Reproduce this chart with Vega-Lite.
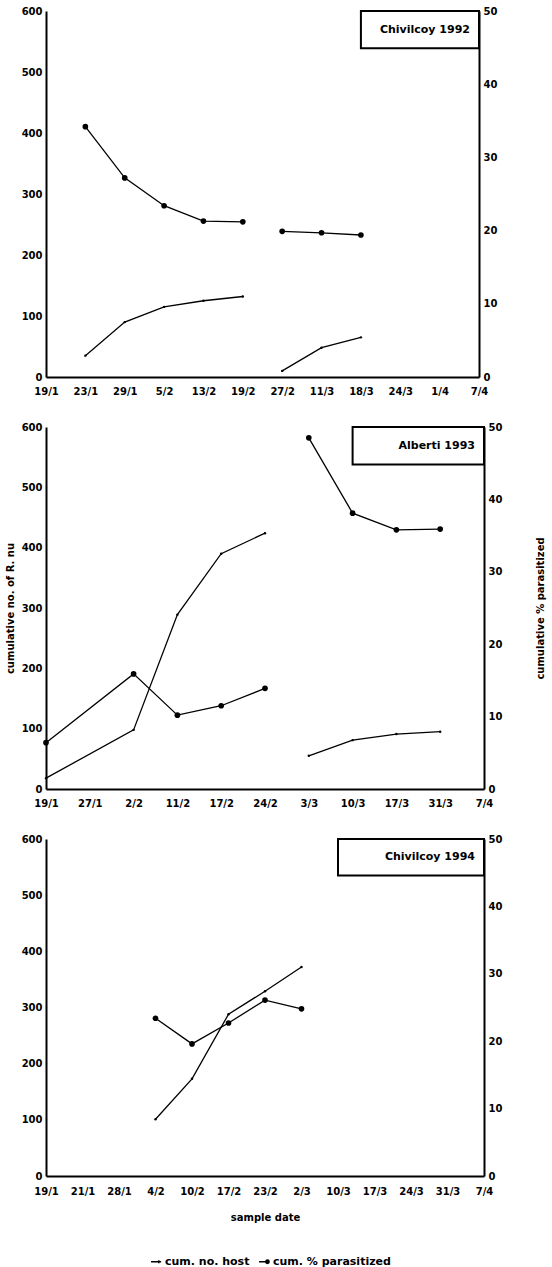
{
  "$schema": "https://vega.github.io/schema/vega-lite/v6.json",
  "padding": {"left": 5, "top": 6, "right": 2, "bottom": 2},
  "datasets": {
    "obs": [
      {"site": "Chivilcoy 1992", "date": "23/1", "host": 35, "pct": 34.2, "seg": 1},
      {"site": "Chivilcoy 1992", "date": "29/1", "host": 90, "pct": 27.2, "seg": 1},
      {"site": "Chivilcoy 1992", "date": "5/2", "host": 115, "pct": 23.4, "seg": 1},
      {"site": "Chivilcoy 1992", "date": "13/2", "host": 125, "pct": 21.3, "seg": 1},
      {"site": "Chivilcoy 1992", "date": "19/2", "host": 132, "pct": 21.2, "seg": 1},
      {"site": "Chivilcoy 1992", "date": "27/2", "host": 10, "pct": 19.9, "seg": 2},
      {"site": "Chivilcoy 1992", "date": "11/3", "host": 48, "pct": 19.7, "seg": 2},
      {"site": "Chivilcoy 1992", "date": "18/3", "host": 65, "pct": 19.4, "seg": 2},
      {"site": "Alberti 1993", "date": "19/1", "host": 18, "pct": 6.4, "seg": 1},
      {"site": "Alberti 1993", "date": "2/2", "host": 98, "pct": 15.9, "seg": 1},
      {"site": "Alberti 1993", "date": "11/2", "host": 289, "pct": 10.2, "seg": 1},
      {"site": "Alberti 1993", "date": "17/2", "host": 390, "pct": 11.5, "seg": 1},
      {"site": "Alberti 1993", "date": "24/2", "host": 424, "pct": 13.9, "seg": 1},
      {"site": "Alberti 1993", "date": "3/3", "host": 55, "pct": 48.5, "seg": 2},
      {"site": "Alberti 1993", "date": "10/3", "host": 81, "pct": 38.1, "seg": 2},
      {"site": "Alberti 1993", "date": "17/3", "host": 91, "pct": 35.8, "seg": 2},
      {"site": "Alberti 1993", "date": "31/3", "host": 95, "pct": 35.9, "seg": 2},
      {"site": "Chivilcoy 1994", "date": "4/2", "host": 101, "pct": 23.4, "seg": 1},
      {"site": "Chivilcoy 1994", "date": "10/2", "host": 173, "pct": 19.6, "seg": 1},
      {"site": "Chivilcoy 1994", "date": "17/2", "host": 288, "pct": 22.7, "seg": 1},
      {"site": "Chivilcoy 1994", "date": "23/2", "host": 329, "pct": 26.1, "seg": 1},
      {"site": "Chivilcoy 1994", "date": "2/3", "host": 372, "pct": 24.8, "seg": 1}
    ]
  },
  "resolve": {"scale": {"x": "independent", "y": "independent"}},
  "spacing": 26,
  "vconcat": [
    {
      "width": 433,
      "height": 366,
      "data": {"name": "obs"},
      "transform": [{"filter": "datum.site === 'Chivilcoy 1992'"}],
      "layer": [
        {
          "layer": [
            {"mark": {"type": "line"},
             "encoding": {
               "x": {"field": "date", "type": "ordinal", "sort": null, "scale": {"type": "point", "padding": 0, "domain": ["19/1","23/1","29/1","5/2","13/2","19/2","27/2","11/3","18/3","24/3","1/4","7/4"]}, "axis": {"title": null}},
               "y": {"field": "host", "type": "quantitative", "scale": {"domain": [0, 600], "nice": false}, "axis": {"orient": "left", "values": [0,100,200,300,400,500,600], "title": null}},
               "detail": {"field": "seg"}}},
            {"mark": {"type": "point", "size": 6},
             "encoding": {
               "x": {"field": "date", "type": "ordinal", "sort": null, "axis": {"title": null}},
               "y": {"field": "host", "type": "quantitative", "axis": {"orient": "left", "values": [0,100,200,300,400,500,600], "title": null}}}},
            {"transform": [{"aggregate": [{"op": "count", "as": "n"}], "groupby": ["site"]}],
             "mark": {"type": "rect", "fill": "white", "stroke": "black", "strokeWidth": 2},
             "encoding": {"x": {"datum": "18/3"}, "x2": {"datum": "7/4"}, "y": {"datum": 600}, "y2": {"datum": 539}}},
            {"transform": [{"aggregate": [{"op": "count", "as": "n"}], "groupby": ["site"]}],
             "mark": {"type": "text", "align": "right", "baseline": "middle", "dx": -9, "font": "DejaVu Sans", "fontWeight": "bold", "fontSize": 11, "color": "black"},
             "encoding": {"x": {"datum": "7/4"}, "y": {"datum": 569}, "text": {"field": "site", "type": "nominal"}}}
          ]
        },
        {
          "layer": [
            {"mark": {"type": "line"},
             "encoding": {
               "x": {"field": "date", "type": "ordinal", "sort": null, "axis": {"title": null}},
               "y": {"field": "pct", "type": "quantitative", "scale": {"domain": [0, 50], "nice": false}, "axis": {"orient": "right", "values": [0,10,20,30,40,50], "title": null}},
               "detail": {"field": "seg"}}},
            {"mark": {"type": "point", "size": 32},
             "encoding": {
               "x": {"field": "date", "type": "ordinal", "sort": null, "axis": {"title": null}},
               "y": {"field": "pct", "type": "quantitative", "axis": {"orient": "right", "values": [0,10,20,30,40,50], "title": null}}}}
          ]
        }
      ],
      "resolve": {"scale": {"y": "independent"}}
    },
    {
      "width": 438,
      "height": 362,
      "data": {"name": "obs"},
      "transform": [{"filter": "datum.site === 'Alberti 1993'"}],
      "layer": [
        {
          "layer": [
            {"mark": {"type": "line"},
             "encoding": {
               "x": {"field": "date", "type": "ordinal", "sort": null, "scale": {"type": "point", "padding": 0, "domain": ["19/1","27/1","2/2","11/2","17/2","24/2","3/3","10/3","17/3","31/3","7/4"]}, "axis": {"title": null}},
               "y": {"field": "host", "type": "quantitative", "scale": {"domain": [0, 600], "nice": false}, "axis": {"orient": "left", "values": [0,100,200,300,400,500,600], "title": "cumulative no. of R. nu", "titlePadding": 6}},
               "detail": {"field": "seg"}}},
            {"mark": {"type": "point", "size": 6},
             "encoding": {
               "x": {"field": "date", "type": "ordinal", "sort": null, "axis": {"title": null}},
               "y": {"field": "host", "type": "quantitative", "axis": {"orient": "left", "values": [0,100,200,300,400,500,600], "title": "cumulative no. of R. nu", "titlePadding": 6}}}},
            {"transform": [{"aggregate": [{"op": "count", "as": "n"}], "groupby": ["site"]}],
             "mark": {"type": "rect", "fill": "white", "stroke": "black", "strokeWidth": 2},
             "encoding": {"x": {"datum": "10/3"}, "x2": {"datum": "7/4"}, "y": {"datum": 600}, "y2": {"datum": 538}}},
            {"transform": [{"aggregate": [{"op": "count", "as": "n"}], "groupby": ["site"]}],
             "mark": {"type": "text", "align": "right", "baseline": "middle", "dx": -9, "font": "DejaVu Sans", "fontWeight": "bold", "fontSize": 11, "color": "black"},
             "encoding": {"x": {"datum": "7/4"}, "y": {"datum": 569}, "text": {"field": "site", "type": "nominal"}}}
          ]
        },
        {
          "layer": [
            {"mark": {"type": "line"},
             "encoding": {
               "x": {"field": "date", "type": "ordinal", "sort": null, "axis": {"title": null}},
               "y": {"field": "pct", "type": "quantitative", "scale": {"domain": [0, 50], "nice": false}, "axis": {"orient": "right", "values": [0,10,20,30,40,50], "title": "cumulative % parasitized", "titleAngle": 270, "titlePadding": 44}},
               "detail": {"field": "seg"}}},
            {"mark": {"type": "point", "size": 32},
             "encoding": {
               "x": {"field": "date", "type": "ordinal", "sort": null, "axis": {"title": null}},
               "y": {"field": "pct", "type": "quantitative", "axis": {"orient": "right", "values": [0,10,20,30,40,50], "title": "cumulative % parasitized", "titleAngle": 270, "titlePadding": 44}}}}
          ]
        }
      ],
      "resolve": {"scale": {"y": "independent"}}
    },
    {
      "width": 438,
      "height": 337,
      "data": {"name": "obs"},
      "transform": [{"filter": "datum.site === 'Chivilcoy 1994'"}],
      "layer": [
        {
          "layer": [
            {"mark": {"type": "line"},
             "encoding": {
               "x": {"field": "date", "type": "ordinal", "sort": null, "scale": {"type": "point", "padding": 0, "domain": ["19/1","21/1","28/1","4/2","10/2","17/2","23/2","2/3","10/3","17/3","24/3","31/3","7/4"]}, "axis": {"title": "sample date", "titlePadding": 16, "labelPadding": 10}},
               "y": {"field": "host", "type": "quantitative", "scale": {"domain": [0, 600], "nice": false}, "axis": {"orient": "left", "values": [0,100,200,300,400,500,600], "title": null}},
               "detail": {"field": "seg"}}},
            {"mark": {"type": "point", "size": 6},
             "encoding": {
               "x": {"field": "date", "type": "ordinal", "sort": null, "axis": {"title": "sample date", "titlePadding": 16, "labelPadding": 10}},
               "y": {"field": "host", "type": "quantitative", "axis": {"orient": "left", "values": [0,100,200,300,400,500,600], "title": null}}}},
            {"mark": {"type": "point", "opacity": 0, "filled": false, "strokeWidth": 1.5},
             "encoding": {
               "x": {"field": "date", "type": "ordinal", "sort": null, "axis": {"title": "sample date", "titlePadding": 16, "labelPadding": 10}},
               "y": {"field": "host", "type": "quantitative", "axis": {"orient": "left", "values": [0,100,200,300,400,500,600], "title": null}},
               "shape": {"datum": "cum. no. host", "type": "nominal",
                 "scale": {"domain": ["cum. no. host", "cum. % parasitized"], "range": ["M-1.3,0H1.1M0.55,-0.35V0.35", "M-1.3,0H0.3M0.3,0a0.4,0.4 0 1,0 0.8,0a0.4,0.4 0 1,0 -0.8,0M0.5,0a0.2,0.2 0 1,0 0.4,0a0.2,0.2 0 1,0 -0.4,0"]},
                 "legend": {"title": null, "orient": "none", "legendX": 105, "legendY": 1245, "direction": "horizontal", "symbolOpacity": 1, "symbolStrokeColor": "black", "symbolStrokeWidth": 1.5, "symbolSize": 70, "labelFont": "DejaVu Sans", "labelFontWeight": "bold", "labelFontSize": 11, "labelColor": "black", "columnPadding": 6, "labelOffset": 3}}}},
            {"transform": [{"aggregate": [{"op": "count", "as": "n"}], "groupby": ["site"]}],
             "mark": {"type": "rect", "fill": "white", "stroke": "black", "strokeWidth": 2},
             "encoding": {"x": {"datum": "10/3"}, "x2": {"datum": "7/4"}, "y": {"datum": 600}, "y2": {"datum": 535}}},
            {"transform": [{"aggregate": [{"op": "count", "as": "n"}], "groupby": ["site"]}],
             "mark": {"type": "text", "align": "right", "baseline": "middle", "dx": -9, "font": "DejaVu Sans", "fontWeight": "bold", "fontSize": 11, "color": "black"},
             "encoding": {"x": {"datum": "7/4"}, "y": {"datum": 568}, "text": {"field": "site", "type": "nominal"}}}
          ]
        },
        {
          "layer": [
            {"mark": {"type": "line"},
             "encoding": {
               "x": {"field": "date", "type": "ordinal", "sort": null, "axis": {"title": "sample date", "titlePadding": 16, "labelPadding": 10}},
               "y": {"field": "pct", "type": "quantitative", "scale": {"domain": [0, 50], "nice": false}, "axis": {"orient": "right", "values": [0,10,20,30,40,50], "title": null}},
               "detail": {"field": "seg"}}},
            {"mark": {"type": "point", "size": 32},
             "encoding": {
               "x": {"field": "date", "type": "ordinal", "sort": null, "axis": {"title": "sample date", "titlePadding": 16, "labelPadding": 10}},
               "y": {"field": "pct", "type": "quantitative", "axis": {"orient": "right", "values": [0,10,20,30,40,50], "title": null}}}},
            {"mark": {"type": "point", "opacity": 0, "filled": false, "strokeWidth": 1.5},
             "encoding": {
               "x": {"field": "date", "type": "ordinal", "sort": null, "axis": {"title": "sample date", "titlePadding": 16, "labelPadding": 10}},
               "y": {"field": "pct", "type": "quantitative", "axis": {"orient": "right", "values": [0,10,20,30,40,50], "title": null}},
               "shape": {"datum": "cum. % parasitized", "type": "nominal",
                 "scale": {"domain": ["cum. no. host", "cum. % parasitized"], "range": ["M-1.3,0H1.1M0.55,-0.35V0.35", "M-1.3,0H0.3M0.3,0a0.4,0.4 0 1,0 0.8,0a0.4,0.4 0 1,0 -0.8,0M0.5,0a0.2,0.2 0 1,0 0.4,0a0.2,0.2 0 1,0 -0.4,0"]}}}}
          ]
        }
      ],
      "resolve": {"scale": {"y": "independent"}}
    }
  ],
  "config": {
    "view": {"stroke": null},
    "font": "DejaVu Sans",
    "axis": {"labelFont": "DejaVu Sans", "labelFontWeight": "bold", "labelFontSize": 10, "labelColor": "black",
             "domainColor": "black", "domainWidth": 2, "ticks": false, "grid": false, "labelPadding": 4,
             "titleFont": "DejaVu Sans", "titleFontWeight": "bold", "titleFontSize": 10, "titleColor": "black"},
    "axisX": {"labelPadding": 9, "labelAngle": 0, "labelOverlap": false},
    "line": {"color": "black", "strokeWidth": 1.3},
    "point": {"color": "black", "filled": true, "opacity": 1}
  }
}
